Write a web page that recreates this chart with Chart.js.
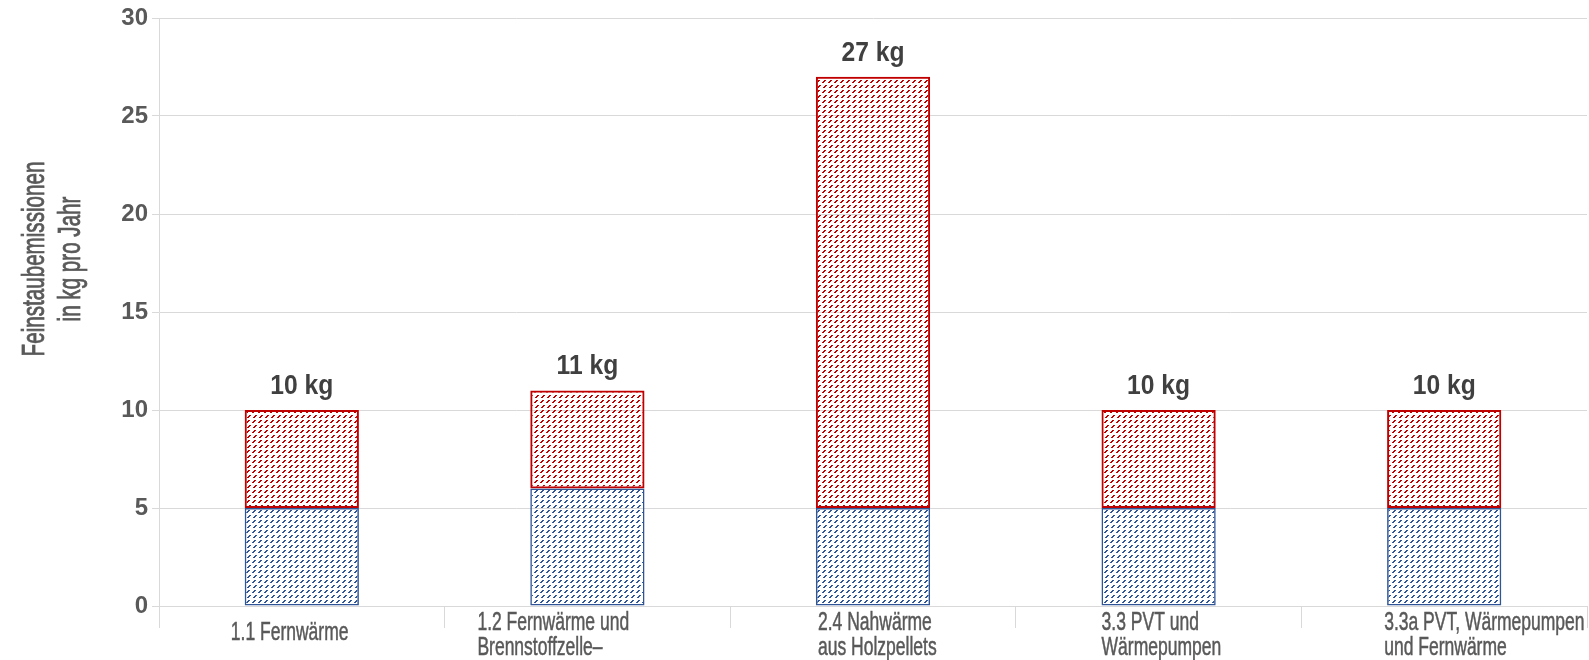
<!DOCTYPE html>
<html>
<head>
<meta charset="utf-8">
<script src="https://cdn.jsdelivr.net/npm/chart.js@4/dist/chart.umd.min.js"></script>
<style>
  html, body { margin: 0; padding: 0; background: #ffffff; }
  #wrap { width: 1589px; height: 660px; }
</style>
</head>
<body>
<div id="wrap"><canvas id="c" width="1589" height="660"></canvas></div>
<script>
// Categories (multi-line tick labels)
const categories = [
  ["1.1 Fernwärme"],
  ["1.2 Fernwärme und", "Brennstoffzelle–"],
  ["2.4 Nahwärme", "aus Holzpellets"],
  ["3.3 PVT und", "Wärmepumpen"],
  ["3.3a PVT, Wärmepumpen", "und Fernwärme"]
];

// Stacked series (kg per year)
const baseEmissions = [5, 6, 5, 5, 5];     // lower, blue part
const extraEmissions = [5, 5, 22, 5, 5];   // upper, red part

// Value axis
const yMin = 0;
const yMax = 30;
const yStep = 5;

const yTitleLines = ["Feinstaubemissionen", "in kg pro Jahr"];
const unitSuffix = " kg";

// Left edge of each category's label block, relative to the category centre (px)
const labelBlockShift = [-71, -110, -55, -57, -60];

const canvas = document.getElementById('c');
const ctx = canvas.getContext('2d');

// Dashed upward-diagonal hatch tile
const hatchRows = [
  "..##..",
  ".##...",
  "##....",
  "......",
  "......",
  "...##.",
  "..##..",
  ".##...",
  "......",
  "......"
];
function hatch(color) {
  const t = document.createElement('canvas');
  t.width = hatchRows[0].length; t.height = hatchRows.length;
  const g = t.getContext('2d');
  g.fillStyle = color;
  hatchRows.forEach((row, y) => {
    [...row].forEach((ch, x) => { if (ch === '#') g.fillRect(x, y, 1, 1); });
  });
  return ctx.createPattern(t, 'repeat');
}

const baseFont = "'Liberation Sans', Arial, sans-serif";

// Text squeezed horizontally to imitate a condensed face
function condensedText(c, text, x, y, sx, weight) {
  c.save();
  c.translate(x, y);
  c.scale(sx, 1);
  c.fillText(text, 0, 0);
  if (weight) { c.lineWidth = weight; c.strokeText(text, 0, 0); }
  c.restore();
}

// Rotated axis title on the left
const yTitlePlugin = {
  id: 'yTitle',
  afterDraw(chart) {
    const c = chart.ctx;
    c.save();
    c.fillStyle = '#595959';
    c.strokeStyle = '#595959';
    c.font = "31px " + baseFont;
    c.textAlign = 'center';
    c.textBaseline = 'middle';
    const xs = [35.5, 71];
    const yc = 259;
    yTitleLines.forEach((line, i) => {
      c.save();
      c.translate(xs[i], yc);
      c.rotate(-Math.PI / 2);
      condensedText(c, line, 0, 0, 0.665, 0.8);
      c.restore();
    });
    c.restore();
  }
};

// Category labels under the axis: left-aligned line blocks
const xLabelPlugin = {
  id: 'xLabels',
  afterDraw(chart) {
    const c = chart.ctx;
    const xs = chart.scales.x;
    const lh = 25;
    const maxLines = Math.max(...categories.map(l => l.length));
    const y0 = xs.top + 4.5;
    c.save();
    c.fillStyle = '#595959';
    c.strokeStyle = '#595959';
    c.font = "25px " + baseFont;
    c.textAlign = 'left';
    c.textBaseline = 'middle';
    categories.forEach((lines, i) => {
      const x = xs.getPixelForTick(i) + labelBlockShift[i];
      const start = y0 + (maxLines - lines.length) * lh * 0.4 + lh / 2;
      lines.forEach((line, j) => condensedText(c, line, x, start + j * lh, 0.70, 0.5));
    });
    c.restore();
  }
};

// Total value above each stacked bar
const totalsPlugin = {
  id: 'totals',
  afterDatasetsDraw(chart) {
    const c = chart.ctx;
    const meta = chart.getDatasetMeta(chart.data.datasets.length - 1);
    const yScale = chart.scales.y;
    c.save();
    c.fillStyle = '#404040';
    c.font = "bold 28px " + baseFont;
    c.textAlign = 'center';
    c.textBaseline = 'middle';
    baseEmissions.forEach((v, i) => {
      const total = v + extraEmissions[i];
      const x = meta.data[i].x;
      const y = yScale.getPixelForValue(total) - 24;
      condensedText(c, total + unitSuffix, x, y, 0.88);
    });
    c.restore();
  }
};

new Chart(ctx, {
  type: 'bar',
  data: {
    labels: categories,
    datasets: [
      {
        label: 'Basis',
        data: baseEmissions,
        backgroundColor: hatch('#2F5597'),
        borderColor: '#2F5597',
        borderWidth: 1.5,
        borderSkipped: false,
        categoryPercentage: 1.0,
        barPercentage: 0.4
      },
      {
        label: 'Zusatz',
        data: extraEmissions,
        backgroundColor: hatch('#C00000'),
        borderColor: '#C00000',
        borderWidth: 2,
        borderSkipped: false,
        categoryPercentage: 1.0,
        barPercentage: 0.4
      }
    ]
  },
  options: {
    responsive: false,
    devicePixelRatio: 1,
    animation: false,
    layout: { padding: { top: 18, right: 2, left: 0, bottom: 0 } },
    plugins: {
      legend: { display: false },
      tooltip: { enabled: false }
    },
    scales: {
      x: {
        stacked: true,
        grid: {
          offset: true,
          drawOnChartArea: false,
          color: '#D9D9D9',
          tickColor: '#D9D9D9',
          tickLength: 22
        },
        border: { display: true, color: '#D9D9D9' },
        ticks: { display: false, autoSkip: false },
        afterFit(scale) {
          scale.height = 54;
          scale.paddingLeft = 0;
          scale.paddingRight = 0;
        }
      },
      y: {
        stacked: true,
        min: yMin,
        max: yMax,
        ticks: {
          stepSize: yStep,
          color: '#595959',
          font: { family: baseFont, size: 24, weight: 'bold' },
          padding: 4
        },
        grid: {
          color: '#D9D9D9',
          tickColor: '#D9D9D9',
          tickLength: 7
        },
        border: { display: true, color: '#D9D9D9' },
        afterFit(scale) {
          scale.width = 159;
          scale.paddingTop = 0;
          scale.paddingBottom = 0;
        }
      }
    }
  },
  plugins: [yTitlePlugin, xLabelPlugin, totalsPlugin]
});
</script>
</body>
</html>
